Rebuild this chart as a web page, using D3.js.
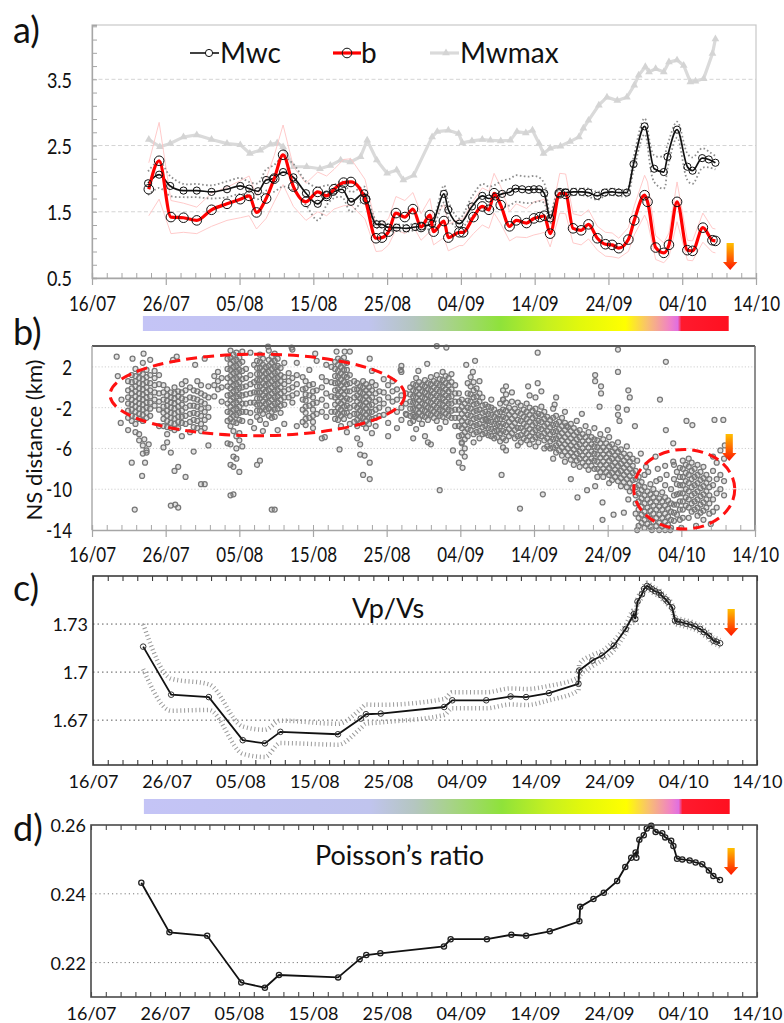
<!DOCTYPE html>
<html lang="en">
<head>
  <meta charset="utf-8">
  <title>Mwc, b, NS distance, Vp/Vs and Poisson's ratio</title>
  <style>
    body { margin: 0; background: #ffffff; }
    svg  { display: block; font-family: Lato, "Open Sans", sans-serif; }
  </style>
</head>
<body>

<div id="chart"></div>

<script src="https://d3js.org/d3.v7.min.js"></script>
<script>

  ////////////////////////////////////////////////// DATA
  // every x value is a number of days after 16/07

  var tickDays   = [0, 10, 20, 30, 40, 50, 60, 70, 80, 90];
  var tickLabels = ["16/07", "26/07", "05/08", "15/08", "25/08", "04/09", "14/09", "24/09", "04/10", "14/10"];

  // a) completeness magnitude
  var mwcDay = [7.6, 9.1, 10.6, 12.4, 14.2, 16.2, 18.3, 20.1, 21.3, 22.5, 23.6, 24.6, 25.9, 27.3, 29.0, 30.6, 31.8, 32.7, 33.9, 35.1,
                36.9, 37.2, 38.6, 39.3, 40.2, 41.3, 42.6, 43.8, 44.7, 46.1, 47.7, 48.3, 49.8, 51.5, 52.9, 53.8, 54.7, 55.6, 56.7, 57.4,
                58.3, 59.2, 59.9, 60.6, 61.3, 62.1, 63.3, 64.2, 65.3, 66.4, 67.3, 68.5, 69.5, 70.5, 71.4, 72.5, 73.4, 74.9, 76.2, 77.5,
                78.0, 79.3, 80.7, 81.4, 82.7, 83.6, 84.5];
  var mwcVal = [1.93, 2.06, 1.89, 1.82, 1.82, 1.80, 1.84, 1.89, 1.85, 1.81, 1.98, 2.00, 2.10, 2.02, 1.78, 1.62, 1.75, 1.80, 1.84, 1.65,
                1.78, 1.69, 1.31, 1.31, 1.26, 1.26, 1.25, 1.27, 1.28, 1.32, 1.77, 1.53, 1.32, 1.58, 1.74, 1.70, 1.73, 1.77, 1.80, 1.85,
                1.84, 1.83, 1.84, 1.84, 1.78, 1.40, 1.78, 1.79, 1.80, 1.80, 1.79, 1.74, 1.79, 1.80, 1.79, 1.79, 2.22, 2.79, 2.15, 2.10,
                2.33, 2.74, 2.18, 2.12, 2.31, 2.29, 2.24];
  var mwcErr = [0.18, 0.20, 0.15, 0.10, 0.10, 0.10, 0.12, 0.12, 0.10, 0.12, 0.16, 0.20, 0.22, 0.20, 0.18, 0.25, 0.15, 0.10, 0.12, 0.15,
                0.10, 0.08, 0.05, 0.05, 0.05, 0.05, 0.05, 0.05, 0.05, 0.06, 0.13, 0.12, 0.08, 0.15, 0.18, 0.18, 0.18, 0.20, 0.20, 0.20,
                0.20, 0.20, 0.20, 0.18, 0.15, 0.08, 0.06, 0.05, 0.05, 0.05, 0.06, 0.06, 0.05, 0.05, 0.05, 0.05, 0.10, 0.12, 0.20, 0.25,
                0.18, 0.12, 0.20, 0.20, 0.15, 0.12, 0.10];

  // a) b-value
  var bDay = [7.7, 9.1, 10.7, 12.4, 14.2, 16.2, 18.3, 20.1, 21.3, 22.3, 23.6, 24.7, 25.9, 27.3, 29.0, 30.6, 31.8, 32.8, 34.1, 35.1,
              37.0, 38.5, 39.3, 40.2, 41.2, 42.4, 43.5, 44.6, 45.8, 46.3, 47.7, 48.3, 49.8, 50.3, 51.7, 52.9, 53.8, 54.5, 55.4, 56.6,
              57.5, 58.9, 59.9, 60.7, 61.3, 62.1, 63.4, 64.2, 65.2, 66.3, 67.3, 68.5, 69.6, 70.5, 71.4, 72.7, 73.5, 74.9, 75.3, 76.4,
              77.5, 78.2, 79.3, 80.7, 81.4, 82.8, 84.1, 84.5];
  var bVal = [1.84, 2.27, 1.42, 1.41, 1.37, 1.53, 1.62, 1.69, 1.74, 1.49, 1.70, 2.00, 2.36, 1.88, 1.65, 1.80, 1.74, 1.84, 1.94, 1.95,
              1.69, 1.10, 1.11, 1.20, 1.48, 1.42, 1.54, 1.27, 1.45, 1.20, 1.36, 1.11, 1.19, 1.19, 1.42, 1.58, 1.53, 1.78, 1.60, 1.28,
              1.37, 1.33, 1.40, 1.42, 1.44, 1.17, 1.78, 1.77, 1.25, 1.22, 1.31, 1.10, 1.01, 1.00, 0.95, 1.08, 1.37, 1.75, 1.65, 0.96,
              0.88, 1.00, 1.65, 0.92, 0.91, 1.26, 1.07, 1.06];
  var bErr = [0.40, 0.58, 0.25, 0.22, 0.20, 0.25, 0.25, 0.28, 0.30, 0.25, 0.30, 0.35, 0.45, 0.30, 0.28, 0.30, 0.30, 0.30, 0.35, 0.35,
              0.30, 0.20, 0.20, 0.20, 0.25, 0.25, 0.25, 0.20, 0.25, 0.20, 0.25, 0.20, 0.20, 0.20, 0.25, 0.28, 0.28, 0.30, 0.28, 0.22,
              0.25, 0.22, 0.25, 0.25, 0.25, 0.20, 0.30, 0.30, 0.22, 0.22, 0.22, 0.18, 0.18, 0.18, 0.15, 0.18, 0.22, 0.30, 0.30, 0.18,
              0.15, 0.18, 0.30, 0.15, 0.15, 0.22, 0.18, 0.18];

  // a) maximum magnitude
  var maxDay = [7.7, 9.2, 10.6, 12.4, 14.2, 16.2, 18.3, 20.1, 21.4, 22.8, 24.2, 25.1, 25.9, 27.3, 29.1, 30.9, 32.3, 33.7, 35.0, 36.4,
                37.3, 38.6, 40.0, 41.3, 42.2, 43.6, 46.1, 46.8, 48.3, 49.7, 50.2, 51.5, 52.9, 54.0, 55.4, 56.7, 57.6, 58.8, 59.7, 60.6,
                61.2, 62.1, 63.5, 64.8, 66.0, 66.6, 67.3, 68.7, 69.8, 71.2, 72.5, 73.5, 74.1, 75.0, 75.5, 76.4, 77.5, 78.2, 79.3, 80.2,
                81.1, 81.8, 82.9, 84.1, 84.5];
  var maxVal = [2.59, 2.48, 2.53, 2.63, 2.66, 2.59, 2.53, 2.51, 2.38, 2.43, 2.52, 2.54, 2.48, 2.18, 2.18, 2.15, 2.20, 2.28, 2.25, 2.33,
                2.58, 2.28, 2.08, 2.13, 1.98, 2.05, 2.63, 2.71, 2.73, 2.68, 2.54, 2.57, 2.59, 2.58, 2.57, 2.58, 2.71, 2.69, 2.73, 2.53,
                2.38, 2.46, 2.49, 2.56, 2.63, 2.76, 2.88, 3.11, 3.23, 3.18, 3.23, 3.41, 3.56, 3.69, 3.61, 3.66, 3.61, 3.76, 3.79, 3.71,
                3.46, 3.47, 3.51, 3.89, 4.11];

  var aTicks = [0.5, 1.5, 2.5, 3.5];

  // b) NS distance (km) of events: each row is [day, ns, ns, ...]
  var nsCols = [
    [4.9, 0.6, -0.3, -1.0, -1.6, -2.3, -3.0],
    [5.4, 1.2, 0.5, -0.1, -0.6, -1.2, -1.7, -2.2, -2.8, -3.3],
    [5.9, 1.8, 1.1, 0.6, 0.1, -0.4, -0.9, -1.4, -1.9, -2.4, -2.9, -3.6, -4.4],
    [6.4, 1.5, 0.9, 0.4, -0.1, -0.6, -1.1, -1.6, -2.1, -2.6, -3.1, -4.6, -5.2],
    [6.9, 2.4, 1.3, 0.8, 0.3, -0.2, -0.7, -1.2, -1.7, -2.2, -2.7, -3.3, -5.7, -6.5],
    [7.4, 1.7, 1.0, 0.5, 0.0, -0.5, -1.0, -1.5, -2.0, -2.5, -3.0, -6.2],
    [7.9, 1.2, 0.4, -0.3, -0.9, -1.5, -2.1, -2.8],
    [8.5, 1.6, 0.9, 0.2, -0.5, -1.2, -1.8],
    [9.1, 1.2, 0.3, -0.6, -1.4, -2.2, -3.8],
    [9.7, 0.2, -0.5, -1.2, -1.9, -2.5, -3.1, -3.8, -5.9],
    [10.2, -0.2, -0.8, -1.3, -1.8, -2.3, -2.8, -3.3, -3.9, -4.6, -5.4],
    [10.7, -0.5, -1.0, -1.5, -2.0, -2.5, -3.0, -3.5, -4.0, -6.4],
    [11.2, 0.0, -0.6, -1.1, -1.6, -2.1, -2.6, -3.1, -3.6, -4.2, -8.2],
    [11.7, -0.4, -0.9, -1.4, -1.9, -2.4, -2.9, -3.4, -4.0, -7.8],
    [12.2, 0.3, -0.5, -1.1, -1.7, -2.3, -2.9, -3.5, -4.8],
    [12.7, 0.6, -0.3, -1.2, -2.0, -2.8, -3.6, -8.8],
    [13.3, 0.0, -1.0, -1.8, -2.6, -3.4, -4.4],
    [13.8, -0.3, -1.1, -1.8, -2.5, -3.2, -3.9, -6.3],
    [14.3, 0.6, -0.4, -1.2, -1.9, -2.6, -3.3, -4.0],
    [14.8, 0.2, -0.6, -1.4, -2.1, -2.8, -3.6, -4.3],
    [15.3, -0.8, -1.6, -2.4, -3.2, -4.0],
    [15.8, 0.1, -1.0, -2.0, -2.9, -5.7],
    [16.6, 1.1, 0.2, -0.9],
    [17.1, 1.5, 0.6, -0.2],
    [17.6, 0.9, 0.0, -1.4],
    [18.4, 2.8, 1.8, 0.9, 0.1, -0.8, -1.6, -2.4, -3.3, -5.5],
    [18.8, 3.6, 2.9, 2.3, 1.7, 1.1, 0.5, -0.1, -0.7, -1.3, -1.9, -2.5, -3.1, -3.8, -5.6, -7.6],
    [19.2, 3.2, 2.6, 2.0, 1.4, 0.8, 0.2, -0.4, -1.0, -1.6, -2.2, -2.8, -3.4, -4.3, -6.8, -7.8],
    [19.6, 3.4, 2.7, 2.1, 1.5, 0.9, 0.3, -0.3, -0.9, -1.5, -2.1, -2.7, -3.5, -4.8, -6.0, -7.0],
    [20.0, 2.9, 2.3, 1.7, 1.1, 0.5, -0.1, -0.7, -1.3, -1.9, -2.5, -3.2, -4.5, -5.2, -8.3],
    [20.4, 3.5, 2.5, 1.6, 0.8, 0.0, -0.8, -1.6, -2.4, -3.3, -5.8],
    [20.9, 1.8, 0.9, 0.1, -0.7, -1.6, -2.4],
    [21.5, 3.4, 1.2, 0.3, -0.6, -1.5, -2.5, -3.4],
    [22.0, 2.2, 0.5, -0.5, -1.5, -4.0],
    [22.4, 2.6, 1.9, 1.3, 0.7, 0.1, -0.5, -1.1, -1.7, -2.3, -2.9, -7.6],
    [22.8, 3.2, 2.5, 1.9, 1.3, 0.7, 0.1, -0.5, -1.1, -1.7, -2.3, -3.2, -7.2],
    [23.2, 2.8, 2.2, 1.6, 1.0, 0.4, -0.2, -0.8, -1.4, -2.0, -2.6, -4.3],
    [23.6, 2.0, 1.4, 0.8, 0.2, -0.4, -1.0, -1.6, -2.2, -3.6],
    [24.0, 3.6, 2.7, 2.1, 1.5, 0.9, 0.3, -0.3, -0.9, -1.5, -2.1, -2.8],
    [24.4, 3.0, 2.4, 1.8, 1.2, 0.6, 0.0, -0.6, -1.2, -1.8, -2.4, -3.0],
    [24.8, 3.3, 2.6, 2.0, 1.4, 0.8, 0.2, -0.4, -1.0, -1.6, -2.2, -2.9],
    [25.2, 2.8, 2.1, 1.5, 0.9, 0.3, -0.3, -0.9, -1.5, -2.1, -4.2],
    [25.6, 1.9, 1.2, 0.6, 0.0, -0.6, -1.2, -1.8, -2.5],
    [26.1, 2.4, 1.0, 0.3, -0.4, -1.0, -1.7, -3.6],
    [26.7, 1.4, 0.6, -0.2, -1.0],
    [27.2, 3.7, 0.9, 0.0, -0.8, -1.5],
    [27.8, 2.4, 1.2, 0.3, -0.6, -3.8],
    [28.6, 1.0, -0.2, -1.2, -2.2, -3.4],
    [29.0, 0.6, -0.1, -0.7, -1.3, -1.9, -2.5, -3.1, -3.7],
    [29.5, 1.7, 0.2, -0.8, -1.8, -3.0],
    [30.0, 0.3, -0.4, -1.0, -1.6, -2.2, -2.8, -3.4, -4.0],
    [30.5, 2.6, -0.3, -1.5, -2.6],
    [31.2, 1.0, 0.0, -1.2, -2.4, -5.0],
    [31.8, 2.2, 0.6, -0.6, -1.8, -2.9],
    [32.5, 2.0, 0.5, -0.9, -2.4],
    [33.0, 2.5, 1.8, 1.1, 0.4, -0.3, -1.0, -1.7, -2.4, -3.1],
    [33.4, 2.8, 2.2, 1.6, 1.0, 0.4, -0.2, -0.8, -1.4, -2.0, -2.6, -3.2],
    [33.8, 2.6, 2.0, 1.4, 0.8, 0.2, -0.4, -1.0, -1.6, -2.2, -2.8, -3.8],
    [34.2, 2.9, 2.3, 1.7, 1.1, 0.5, -0.1, -0.7, -1.3, -1.9, -2.5, -3.1],
    [34.6, 2.4, 1.7, 1.0, 0.3, -0.4, -1.1, -1.8, -2.5, -4.4],
    [35.0, 1.2, 0.4, -0.4, -1.2, -2.0, -2.8, -3.6],
    [35.6, 0.6, -0.2, -1.0, -1.8, -2.6, -3.4],
    [36.0, 0.4, -0.2, -0.8, -1.4, -2.0, -2.6, -3.2, -3.8, -5.0],
    [36.4, 0.1, -0.5, -1.1, -1.7, -2.3, -2.9, -3.5, -5.6],
    [36.8, 0.6, 0.0, -0.6, -1.2, -1.8, -2.4, -3.0, -3.6],
    [37.2, 0.3, -0.3, -0.9, -1.5, -2.1, -2.7, -3.3, -4.0],
    [37.6, 0.0, -0.6, -1.2, -1.8, -2.4, -3.0, -3.6],
    [38.0, 1.6, 0.5, -0.3, -1.0, -1.7, -2.4, -3.1, -4.5],
    [38.5, 0.2, -0.6, -1.4, -2.2, -3.0, -3.8],
    [39.0, -0.4, -1.2, -2.0, -2.8],
    [39.6, 0.8, -0.5, -1.6, -2.7],
    [40.2, 0.2, -1.0, -2.2, -3.5],
    [40.8, 0.6, -0.4, -1.4],
    [41.4, -0.2, -1.2, -2.4, -4.0],
    [42.0, 1.5, -0.8, -2.0, -3.2],
    [42.6, -0.6, -1.6, -2.6],
    [43.2, 0.0, -0.7, -1.4, -2.1, -2.8, -3.5],
    [43.6, 0.3, -0.3, -0.9, -1.5, -2.1, -2.7, -3.3, -5.0],
    [44.0, 0.9, 0.2, -0.4, -1.0, -1.6, -2.2, -2.8, -4.1],
    [44.4, 0.5, -0.1, -0.7, -1.3, -1.9, -2.5, -3.1],
    [44.8, 0.2, -0.4, -1.0, -1.6, -2.2, -2.8, -3.6],
    [45.2, 0.7, 0.1, -0.5, -1.1, -1.7, -2.3, -2.9, -4.8],
    [45.6, 0.4, -0.2, -0.8, -1.4, -2.0, -2.6, -3.2, -5.4],
    [46.0, 1.0, 0.3, -0.3, -0.9, -1.5, -2.1, -2.7],
    [46.4, 0.6, 0.0, -0.6, -1.2, -1.8, -2.4, -3.0],
    [46.8, 1.2, 0.4, -0.2, -0.8, -1.4, -2.0, -2.6, -3.3],
    [47.2, 0.8, 0.2, -0.4, -1.0, -1.6, -2.2, -2.8, -4.0, -10.1],
    [47.6, 1.5, 0.7, 0.1, -0.5, -1.1, -1.7, -2.3, -2.9],
    [48.0, 1.1, 0.4, -0.2, -0.8, -1.4, -2.0, -2.6, -3.4],
    [48.4, 0.9, 0.2, -0.4, -1.0, -1.6, -2.2, -2.8],
    [48.8, 1.3, 0.5, -0.2, -0.9, -1.6, -2.3, -3.0],
    [49.3, 0.2, -0.6, -1.4, -2.2, -3.0, -3.8],
    [49.8, -0.6, -1.4, -2.2, -3.0, -3.8, -4.8, -7.4],
    [50.2, -1.2, -1.9, -2.6, -3.3, -4.0, -4.7, -5.4, -6.4],
    [50.6, -1.6, -2.3, -3.0, -3.7, -4.4, -5.1, -6.0, -6.8],
    [51.0, 0.4, -0.6, -1.3, -2.0, -2.7, -3.4, -4.1, -4.8],
    [51.4, 1.0, 0.1, -0.7, -1.4, -2.1, -2.8, -3.5, -4.2],
    [51.8, 0.5, -0.3, -1.0, -1.7, -2.4, -3.1, -3.8, -4.6, -5.4],
    [52.2, -0.1, -0.9, -1.6, -2.3, -3.0, -3.7, -4.4],
    [52.6, 0.6, -0.6, -1.4, -2.2, -2.9, -3.6, -4.3, -5.0],
    [53.0, -1.0, -1.8, -2.5, -3.2, -3.9, -4.6],
    [53.4, -1.7, -2.4, -3.1, -3.8, -4.5],
    [53.8, -1.9, -2.6, -3.3, -4.0, -4.7],
    [54.2, -1.2, -2.0, -2.7, -3.4, -4.1, -4.8],
    [54.6, -2.2, -2.9, -3.6, -4.3, -5.0],
    [55.0, -2.5, -3.1, -3.7, -4.3, -4.9],
    [55.4, -1.6, -2.4, -3.1, -3.8, -4.5, -5.3],
    [55.8, -0.3, -1.2, -2.2, -2.9, -3.6, -4.3, -5.0, -5.9],
    [56.2, 0.1, -0.7, -1.5, -2.3, -3.0, -3.7, -4.4, -5.2, -6.2],
    [56.6, -2.0, -2.7, -3.4, -4.1, -4.8],
    [57.0, -1.4, -2.4, -3.1, -3.8, -4.5],
    [57.4, -2.1, -2.8, -3.5, -4.2, -5.0],
    [57.8, -1.5, -2.4, -3.2, -4.0, -4.8, -5.7],
    [58.2, -1.8, -2.6, -3.3, -4.0, -4.7, -5.4],
    [58.6, -2.2, -2.9, -3.6, -4.3, -5.0],
    [59.0, -1.6, -2.4, -3.1, -3.8, -4.5, -5.2],
    [59.4, -0.8, -2.0, -2.7, -3.4, -4.1, -4.8, -5.6],
    [59.8, -2.3, -3.0, -3.7, -4.4, -5.1],
    [60.2, -1.0, -2.1, -2.8, -3.5, -4.2, -4.9, -5.8],
    [60.6, -2.6, -3.3, -4.0, -4.7, -5.4],
    [61.0, -1.9, -2.7, -3.4, -4.1, -4.8],
    [61.4, -2.4, -3.1, -3.8, -4.5, -5.2, -6.0],
    [61.8, -2.9, -3.6, -4.3, -5.0, -5.8],
    [62.2, -3.2, -3.9, -4.6, -5.3, -6.0],
    [62.6, -2.1, -3.0, -3.7, -4.4, -5.1, -5.9, -7.0],
    [63.0, -2.8, -3.6, -4.3, -5.0, -5.7, -6.4],
    [63.4, -3.4, -4.1, -4.8, -5.5, -6.2],
    [63.8, -3.0, -3.8, -4.5, -5.2, -5.9, -6.7],
    [64.2, -2.4, -3.5, -4.2, -4.9, -5.6, -6.3, -7.3],
    [64.6, -3.9, -4.6, -5.3, -6.0, -6.7],
    [65.0, -3.6, -4.3, -5.0, -5.7, -6.4, -7.1],
    [65.4, -4.0, -4.7, -5.4, -6.1, -6.8, -7.6],
    [65.8, -3.3, -4.4, -5.1, -5.8, -6.5, -7.2],
    [66.2, -4.2, -4.9, -5.6, -6.3, -7.0, -7.8],
    [66.6, -4.6, -5.3, -6.0, -6.7, -7.4],
    [67.0, -3.8, -4.9, -5.6, -6.3, -7.0, -7.7],
    [67.4, -4.4, -5.2, -5.9, -6.6, -7.3, -8.1],
    [67.8, -4.9, -5.6, -6.3, -7.0, -7.7],
    [68.2, -4.0, -5.1, -5.8, -6.5, -7.2, -8.0],
    [68.6, -5.2, -5.9, -6.6, -7.3, -8.0, -8.8],
    [69.0, -4.6, -5.5, -6.2, -6.9, -7.6, -8.3],
    [69.4, -5.1, -5.9, -6.6, -7.3, -8.0, -8.8],
    [69.8, -5.5, -6.2, -6.9, -7.6, -8.3],
    [70.2, -4.9, -5.8, -6.5, -7.2, -7.9, -8.6, -9.4],
    [70.6, -5.6, -6.3, -7.0, -7.7, -8.4, -9.1],
    [71.0, -6.0, -6.7, -7.4, -8.1, -8.8],
    [71.4, -5.4, -6.3, -7.0, -7.7, -8.4, -9.2],
    [71.8, -6.1, -6.8, -7.5, -8.2, -8.9, -9.7],
    [72.2, -6.5, -7.2, -7.9, -8.6, -9.3],
    [72.6, -5.8, -6.9, -7.6, -8.3, -9.0, -9.8],
    [73.0, -6.6, -7.3, -8.0, -8.7, -9.4, -10.2],
    [73.4, -7.0, -7.7, -8.4, -9.1, -9.9],
    [73.8, -8.2, -9.0, -9.8, -10.6, -11.4, -12.4],
    [74.2, -8.8, -9.6, -10.4, -11.2, -12.0, -12.8, -13.6],
    [74.6, -9.3, -10.1, -10.9, -11.7, -12.5, -13.3],
    [75.0, -8.6, -9.8, -10.6, -11.4, -12.2, -13.0, -13.8],
    [75.4, -10.2, -11.0, -11.8, -12.6, -13.4],
    [75.8, -9.5, -10.5, -11.3, -12.1, -12.9, -13.7],
    [76.2, -10.0, -10.8, -11.6, -12.4, -13.2],
    [76.6, -9.2, -10.4, -11.2, -12.0, -12.8, -13.6],
    [77.0, -10.9, -11.7, -12.5, -13.3, -14.0],
    [77.4, -10.3, -11.2, -12.0, -12.8, -13.6],
    [77.8, -9.6, -10.8, -11.6, -12.4, -13.2, -14.0],
    [78.2, -11.1, -11.9, -12.7, -13.5],
    [78.6, -10.0, -11.4, -12.2, -13.0, -13.8],
    [79.0, -9.0, -10.6, -11.5, -12.3, -13.1],
    [79.4, -8.3, -9.5, -10.5, -11.5, -12.5],
    [79.8, -7.9, -8.8, -9.6, -10.4, -11.2, -12.0, -13.0],
    [80.2, -7.2, -8.0, -8.8, -9.6, -10.4, -11.2, -12.0, -12.8],
    [80.6, -7.6, -8.4, -9.2, -10.0, -10.8, -11.6],
    [81.0, -7.0, -7.8, -8.6, -9.4, -10.2, -11.0, -11.8, -12.8],
    [81.4, -7.4, -8.2, -9.0, -9.8, -10.6, -11.4, -12.2],
    [81.8, -8.0, -8.8, -9.6, -10.4, -11.2, -12.0],
    [82.2, -7.6, -8.6, -9.4, -10.2, -11.0, -11.8, -12.6],
    [82.6, -8.3, -9.1, -9.9, -10.7, -11.5, -12.3],
    [83.0, -7.8, -8.9, -9.7, -10.5, -11.3, -12.1, -13.0],
    [83.4, -8.6, -9.4, -10.2, -11.0, -11.8],
    [83.8, -9.0, -9.8, -10.6, -11.4, -12.4],
    [84.3, -6.8, -8.2, -9.6, -11.0, -12.2],
    [84.8, -7.4, -9.0, -10.4, -11.8],
    [85.3, -6.2, -8.6, -10.0],
    [85.8, -7.0, -9.2, -10.6]
  ];

  // b) isolated events as [day, ns]
  var nsLoose = [
    [3.35, 3.0], [3.5, 1.1], [4.0, -1.2], [3.9, -3.5], [4.9, -4.2], [5.4, -7.4], [5.5, 2.8], [5.8, -12.0], [6.8, -8.7],
    [7.0, 3.3], [7.1, -5.1], [7.4, -6.4], [7.2, -7.4], [7.7, -5.6], [7.9, 2.7], [10.7, -11.6], [11.7, -11.8],
    [19.2, -10.5], [24.8, -12.0], [11.3, -11.5], [15.3, -9.5], [11.0, 2.7], [11.5, 3.0], [15.3, 2.8], [14.0, 2.2],
    [23.9, 4.0], [27.1, 3.9], [30.3, 3.3], [33.2, 3.5], [34.3, 3.5], [35.0, 3.5], [37.7, 2.8], [42.0, 2.1], [41.9, 1.7],
    [37.7, -9.0], [37.7, -7.4], [37.0, -6.7], [36.8, -8.6], [36.4, -6.6], [33.6, -6.1], [31.6, -4.9], [40.2, -4.8],
    [42.7, -2.7], [43.8, -2.9], [18.8, -10.6], [14.8, -9.5], [24.4, -12.0],
    [46.8, 4.05], [48.1, 3.9], [50.8, 2.2], [51.7, 1.5], [60.5, 3.4], [71.4, 3.7], [71.4, 1.5], [77.9, 2.5],
    [68.3, 1.2], [68.3, 0.6], [69.1, 0.1], [69.1, -0.6], [68.9, -1.9], [72.8, -0.3], [77.1, -1.2], [80.7, -3.3],
    [81.5, -3.7], [84.5, -3.2], [85.7, -3.2], [77.9, -4.2], [85.9, -5.7], [71.4, -2.0], [71.4, -2.7], [71.6, -3.3],
    [72.6, -2.2], [73.7, -3.8], [78.9, -5.5], [77.8, -7.7], [78.9, -7.3], [77.1, -9.0], [50.3, -7.9], [55.6, -8.6],
    [61.2, -10.5], [58.1, -11.9], [65.9, -10.8], [68.3, -9.7], [69.3, -11.3], [69.3, -13.0], [70.8, -12.5], [72.2, -12.3],
    [60.5, 0.4], [61.0, -0.4], [59.2, 0.1], [62.8, -1.7], [64.4, -3.8], [55.8, -1.2], [53.5, -3.2], [50.2, -5.5],
    [73.0, -1.0], [74.5, -6.5], [75.2, -7.8], [76.5, -6.8], [66.5, -2.6], [70.0, -4.2], [63.0, -1.0], [57.0, -0.5],
    [52.0, 2.6], [45.5, 2.3], [44.3, 1.6], [46.0, -5.6], [49.0, -6.2], [65.0, -9.0], [67.2, -10.1], [72.8, -11.0],
    [74.0, -14.0], [76.0, -14.0], [78.5, -14.0], [80.0, -13.8], [82.0, -13.6], [84.0, -13.4],
    [74.0, -7.2], [75.5, -8.3], [76.8, -8.0], [78.0, -8.6], [79.0, -7.6]
  ];

  var nsTicks = [-14, -10, -6, -2, 2];

  // b) the two dashed ellipses: centre and half axes
  var ellDay     = [22.45, 80.4];
  var ellNs      = [-0.75, -10.0];
  var ellHalfDay = [20.0, 6.85];
  var ellHalfNs  = [4.0, 3.9];

  // c) Vp/Vs
  var vpDay = [6.8, 10.6, 15.7, 20.3, 23.3, 25.4, 33.2, 36.3, 37.0, 39.0, 47.6, 48.7, 53.3, 56.6, 58.7, 61.8, 65.8, 65.9, 67.7, 69.0,
               70.6, 72.2, 73.3, 73.5, 73.8, 74.4, 74.7, 75.1, 75.4, 75.8, 76.2, 76.7, 77.0, 77.6, 77.9, 78.5, 78.9, 79.3, 79.8, 80.4,
               81.0, 81.6, 82.3, 82.8, 83.5, 84.1, 84.5, 85.0];
  var vpVal = [1.7159, 1.6859, 1.6844, 1.6575, 1.6555, 1.6627, 1.6612, 1.6710, 1.6737, 1.6741, 1.6782, 1.6824, 1.6824, 1.6848, 1.6844,
               1.6869, 1.6927, 1.7010, 1.7072, 1.7103, 1.7165, 1.7269, 1.7362, 1.7331, 1.7440, 1.7486, 1.7520, 1.7538, 1.7530, 1.7517,
               1.7505, 1.7496, 1.7480, 1.7455, 1.7440, 1.7403, 1.7321, 1.7315, 1.7310, 1.7302, 1.7296, 1.7285, 1.7269, 1.7250, 1.7227,
               1.7196, 1.7190, 1.7180];
  var vpErr = [0.0140, 0.0100, 0.0080, 0.0085, 0.0085, 0.0070, 0.0065, 0.0060, 0.0060, 0.0055, 0.0050, 0.0050, 0.0050, 0.0050, 0.0050,
               0.0045, 0.0040, 0.0040, 0.0035, 0.0030, 0.0030, 0.0025, 0.0025, 0.0025, 0.0020, 0.0020, 0.0020, 0.0020, 0.0020, 0.0020,
               0.0020, 0.0020, 0.0020, 0.0020, 0.0020, 0.0020, 0.0020, 0.0020, 0.0020, 0.0020, 0.0020, 0.0020, 0.0020, 0.0020, 0.0020,
               0.0020, 0.0020, 0.0020];
  var vpTicks = [1.67, 1.7, 1.73];

  // d) Poisson's ratio
  var prDay = [6.8, 10.6, 15.7, 20.3, 23.5, 25.4, 33.4, 36.3, 37.2, 39.1, 47.7, 48.6, 53.5, 56.8, 58.8, 62.0, 66.0, 66.1, 67.9, 69.3,
               71.1, 72.2, 73.0, 73.6, 73.7, 74.1, 74.7, 75.1, 75.7, 76.3, 77.2, 77.6, 78.4, 78.7, 79.2, 79.9, 80.9, 81.7, 82.6, 83.5,
               84.1, 85.0];
  var prVal = [0.2432, 0.2288, 0.2278, 0.2142, 0.2127, 0.2164, 0.2157, 0.2210, 0.2222, 0.2227, 0.2247, 0.2268, 0.2268, 0.2281, 0.2278,
               0.2291, 0.2320, 0.2362, 0.2385, 0.2403, 0.2437, 0.2478, 0.2505, 0.2520, 0.2505, 0.2557, 0.2570, 0.2590, 0.2598, 0.2580,
               0.2576, 0.2564, 0.2554, 0.2539, 0.2502, 0.2500, 0.2497, 0.2491, 0.2486, 0.2468, 0.2452, 0.2440];
  var prTicks = [0.22, 0.24, 0.26];

  // colour bar (time code) under a) and c)
  var barDay   = [6.9, 37.5, 43.6, 48.2, 55.4, 61.7, 66.2, 72.3, 75.3, 78.4, 79.4, 79.9, 86.3];
  var barColor = ["#c4c4f6", "#c0c4ee", "#b4c6c0", "#a8d28c", "#8fe23a", "#c6f020", "#e2f80c", "#ffff00",
                  "#f8c070", "#f080c8", "#e070e0", "#ff1a2e", "#ff1020"];

  var arrowDay = 86.5;

  ////////////////////////////////////////////////// SETUP

  var W = 784, H = 1023;

  var svg = d3.select("#chart").append("svg")
              .attr("width", W)
              .attr("height", H);

  var defs = svg.append("defs");

  var arrowGrad = defs.append("linearGradient").attr("id", "arrowGrad")
                      .attr("x1", 0).attr("y1", 0).attr("x2", 0).attr("y2", 1);
  arrowGrad.append("stop").attr("offset", "0%").attr("stop-color", "#ffc000");
  arrowGrad.append("stop").attr("offset", "100%").attr("stop-color", "#ff1500");

  // panel boxes (pixels)
  var pA = {left: 92, right: 756, top: 25,  bottom: 278};
  var pB = {left: 92, right: 755, top: 346, bottom: 530};
  var pC = {left: 93, right: 757, top: 576, bottom: 765};
  var pD = {left: 91, right: 757, top: 825, bottom: 997};

  var xA = d3.scaleLinear().domain([0, 90]).range([pA.left, pA.right]);
  var yA = d3.scaleLinear().domain([0.5, 4.32]).range([pA.bottom, pA.top]);
  var xB = d3.scaleLinear().domain([0, 90]).range([pB.left, pB.right]);
  var yB = d3.scaleLinear().domain([-14, 4.05]).range([pB.bottom, pB.top]);
  var xC = d3.scaleLinear().domain([0, 90]).range([pC.left, pC.right]);
  var yC = d3.scaleLinear().domain([1.642, 1.76]).range([pC.bottom, pC.top]);
  var xD = d3.scaleLinear().domain([0, 90]).range([pD.left, pD.right]);
  var yD = d3.scaleLinear().domain([0.21, 0.26]).range([pD.bottom, pD.top]);

  var minorDays = d3.range(0, 91, 2);

  ////////////////////////////////////////////////// PANEL A

  grid(yA, pA, [1.5, 2.5, 3.5], "#d4d4d4", "4,2.5");

  // frame: light top/right, darker axes
  svg.append("rect").attr("x", pA.left).attr("y", pA.top)
     .attr("width", pA.right - pA.left).attr("height", pA.bottom - pA.top)
     .attr("fill", "none").attr("stroke", "#c8c8c8").attr("stroke-width", 1.2);

  svg.append("g").attr("transform", "translate(" + pA.left + ",0)")
     .call(d3.axisLeft(yA).tickValues(d3.range(0.5, 4.35, 0.2)).tickSize(-5).tickFormat(""))
     .call(function(g){ g.select(".domain").attr("stroke", "#a6a6a6").attr("stroke-width", 1.3); })
     .selectAll("line").attr("stroke", "#a6a6a6");

  yLabels(yA, pA.left - 20, aTicks, function(d){ return d3.format(".1f")(d); }, 18, 1.2);
  xAxisOpen(xA, pA, 33, 1.25);

  var lineA = function(days, vals, curve){
    return d3.line().x(function(d, i){ return xA(days[i]); })
                    .y(function(d){ return yA(d); })
                    .curve(curve)(vals);
  };

  // Mwmax
  svg.append("path").attr("d", lineA(maxDay, maxVal, d3.curveLinear))
     .attr("fill", "none").attr("stroke", "#dadada").attr("stroke-width", 3.2);
  svg.append("g").selectAll("path").data(maxVal).enter().append("path")
     .attr("d", d3.symbol(d3.symbolTriangle).size(26))
     .attr("transform", function(d, i){ return "translate(" + xA(maxDay[i]) + "," + yA(d) + ")"; })
     .attr("fill", "#d4d4d4");

  // b uncertainty
  [1, -1].forEach(function(s){
    var v = bVal.map(function(d, i){ return d + s * bErr[i]; });
    svg.append("path").attr("d", lineA(bDay, v, d3.curveLinear))
       .attr("fill", "none").attr("stroke", "#ffc4c4").attr("stroke-width", 0.9);
  });

  // Mwc uncertainty
  [1, -1].forEach(function(s){
    var v = mwcVal.map(function(d, i){ return d + s * mwcErr[i]; });
    svg.append("path").attr("d", lineA(mwcDay, v, d3.curveCatmullRom))
       .attr("fill", "none").attr("stroke", "#8e8e8e").attr("stroke-width", 1.8)
       .attr("stroke-dasharray", "1.6,2.4");
  });

  svg.append("path").attr("d", lineA(mwcDay, mwcVal, d3.curveMonotoneX))
     .attr("fill", "none").attr("stroke", "#111").attr("stroke-width", 1.7);
  svg.append("path").attr("d", lineA(bDay, bVal, d3.curveMonotoneX))
     .attr("fill", "none").attr("stroke", "#ff0000").attr("stroke-width", 3.2);

  svg.append("g").selectAll("circle").data(mwcVal).enter().append("circle")
     .attr("cx", function(d, i){ return xA(mwcDay[i]); })
     .attr("cy", function(d){ return yA(d); })
     .attr("r", 3.6).attr("fill", "none").attr("stroke", "#111").attr("stroke-width", 1);
  svg.append("g").selectAll("circle").data(bVal).enter().append("circle")
     .attr("cx", function(d, i){ return xA(bDay[i]); })
     .attr("cy", function(d){ return yA(d); })
     .attr("r", 4.8).attr("fill", "none").attr("stroke", "#111").attr("stroke-width", 1);

  // legend
  var lg = svg.append("g");
  lg.append("line").attr("x1", 190).attr("x2", 219).attr("y1", 53).attr("y2", 53).attr("stroke", "#111").attr("stroke-width", 1.6);
  lg.append("circle").attr("cx", 209).attr("cy", 53).attr("r", 3.6).attr("fill", "#fff").attr("stroke", "#111");
  text(220, 63, "Mwc", 28, "start", 1);
  lg.append("line").attr("x1", 333).attr("x2", 361).attr("y1", 53).attr("y2", 53).attr("stroke", "#ff0000").attr("stroke-width", 3.2);
  lg.append("circle").attr("cx", 347).attr("cy", 53).attr("r", 4.8).attr("fill", "none").attr("stroke", "#111");
  text(361, 63, "b", 28, "start", 1);
  lg.append("line").attr("x1", 430).attr("x2", 459).attr("y1", 53).attr("y2", 53).attr("stroke", "#dadada").attr("stroke-width", 3.2);
  lg.append("path").attr("d", d3.symbol(d3.symbolTriangle).size(26)).attr("transform", "translate(446,53)").attr("fill", "#d4d4d4");
  text(460, 63, "Mwmax", 28, "start", 1);

  text(13, 43, "a)", 36, "start", 1);
  arrow(xA, 243);

  ////////////////////////////////////////////////// COLOUR BAR 1

  colourBar("bar1", xA, 316, 15);

  ////////////////////////////////////////////////// PANEL B

  grid(yB, pB, [-10, -6, -2, 2], "#cfcfcf", "1.2,2");

  var nsPts = [];
  nsCols.forEach(function(c){
    for (var i = 1; i < c.length; i++) nsPts.push([c[0], c[i]]);
  });
  nsPts = nsPts.concat(nsLoose);

  svg.append("g").selectAll("circle").data(nsPts).enter().append("circle")
     .attr("cx", function(d){ return xB(d[0]); })
     .attr("cy", function(d){ return yB(d[1]); })
     .attr("r", 2.5).attr("fill", "#808080").attr("fill-opacity", 0.22)
     .attr("stroke", "#777777").attr("stroke-width", 1.25);

  svg.append("line").attr("x1", pB.left).attr("x2", pB.right).attr("y1", pB.top).attr("y2", pB.top)
     .attr("stroke", "#595959").attr("stroke-width", 1.8);
  svg.append("line").attr("x1", pB.right).attr("x2", pB.right).attr("y1", pB.top).attr("y2", pB.bottom)
     .attr("stroke", "#6a6a6a").attr("stroke-width", 1.5);
  svg.append("line").attr("x1", pB.left).attr("x2", pB.left).attr("y1", pB.top).attr("y2", pB.bottom)
     .attr("stroke", "#a0a0a0").attr("stroke-width", 1.3);

  yLabels(yB, pB.left - 20, nsTicks, function(d){ return d; }, 17, 1.2);
  xAxisOpen(xB, pB, 32, 1.25);

  ellDay.forEach(function(d, i){
    svg.append("ellipse")
       .attr("cx", xB(d)).attr("cy", yB(ellNs[i]))
       .attr("rx", xB(ellHalfDay[i]) - xB(0)).attr("ry", yB(0) - yB(ellHalfNs[i]))
       .attr("fill", "none").attr("stroke", "#ff1111").attr("stroke-width", 3)
       .attr("stroke-dasharray", "11,6");
  });

  svg.append("text").attr("transform", "translate(42,440) rotate(-90) scale(1.05,1)")
     .attr("text-anchor", "middle").attr("font-size", 21).attr("fill", "#111").text("NS distance (km)");

  text(13, 345, "b)", 36, "start", 1);
  arrow(xB, 434);

  ////////////////////////////////////////////////// PANEL C

  grid(yC, pC, vpTicks, "#5a5a5a", "1.5,3");

  [1, -1].forEach(function(s){
    var v = vpVal.map(function(d, i){ return d + s * vpErr[i]; });
    svg.append("path")
       .attr("d", d3.line().x(function(d, i){ return xC(vpDay[i]); }).y(function(d){ return yC(d); }).curve(d3.curveMonotoneX)(v))
       .attr("fill", "none").attr("stroke", "#9a9a9a").attr("stroke-width", 4.5)
       .attr("stroke-dasharray", "1,2.8");
  });

  svg.append("path")
     .attr("d", d3.line().x(function(d, i){ return xC(vpDay[i]); }).y(function(d){ return yC(d); })(vpVal))
     .attr("fill", "none").attr("stroke", "#111").attr("stroke-width", 1.8);
  svg.append("g").selectAll("circle").data(vpVal).enter().append("circle")
     .attr("cx", function(d, i){ return xC(vpDay[i]); })
     .attr("cy", function(d){ return yC(d); })
     .attr("r", 2.8).attr("fill", "none").attr("stroke", "#333").attr("stroke-width", 1);

  boxedAxes(xC, pC, "#3c3c3c");
  yLabels(yC, pC.left - 5, vpTicks, function(d){ return d; }, 18, 1);
  text(352, 618, "Vp/Vs", 27, "start", 1);
  text(13, 601, "c)", 36, "start", 1);
  arrow(xC, 609);

  ////////////////////////////////////////////////// COLOUR BAR 2

  colourBar("bar2", xC, 799, 15);

  ////////////////////////////////////////////////// PANEL D

  grid(yD, pD, [0.22, 0.24], "#7a7a7a", "1.2,3");

  svg.append("path")
     .attr("d", d3.line().x(function(d, i){ return xD(prDay[i]); }).y(function(d){ return yD(d); })(prVal))
     .attr("fill", "none").attr("stroke", "#111").attr("stroke-width", 1.8);
  svg.append("g").selectAll("circle").data(prVal).enter().append("circle")
     .attr("cx", function(d, i){ return xD(prDay[i]); })
     .attr("cy", function(d){ return yD(d); })
     .attr("r", 2.6).attr("fill", "none").attr("stroke", "#222").attr("stroke-width", 1.3);

  boxedAxes(xD, pD, "#4a4a4a");
  yLabels(yD, pD.left - 5, prTicks, function(d){ return d3.format(".2f")(d); }, 18, 1);
  text(315, 865, "Poisson\u2019s ratio", 27, "start", 1);
  text(13, 841, "d)", 36, "start", 1);
  arrow(xD, 848);

  ////////////////////////////////////////////////////////////////////////////////////////////////////
  ////////////////////////////////////////////////// FUNCTIONS

  function text(x, y, s, size, anchor, sy){
    return svg.append("text")
              .attr("transform", "translate(" + x + "," + y + ") scale(1," + sy + ")")
              .attr("font-size", size).attr("text-anchor", anchor)
              .attr("fill", "#111").text(s);
  }

  function grid(y, p, vals, color, dash){
    svg.append("g").selectAll("line").data(vals).enter().append("line")
       .attr("x1", p.left).attr("x2", p.right)
       .attr("y1", function(d){ return y(d); }).attr("y2", function(d){ return y(d); })
       .attr("stroke", color).attr("stroke-width", 1).attr("stroke-dasharray", dash);
  }

  function yLabels(y, xRight, vals, fmt, size, sy){
    var g = svg.append("g").attr("transform", "translate(" + xRight + ",0)")
               .call(d3.axisLeft(y).tickValues(vals).tickSize(0).tickPadding(0).tickFormat(fmt));
    g.attr("font-family", null).attr("font-size", null);
    g.select(".domain").remove();
    g.selectAll("text").attr("x", null).attr("dy", null)
     .attr("font-size", size).attr("fill", "#111")
     .attr("transform", "translate(0," + (size * 0.36 * sy) + ") scale(1," + sy + ")");
  }

  // axis with minor ticks up and major ticks down (panels a, b)
  function xAxisOpen(x, p, labelOff, sy){
    svg.append("g").attr("transform", "translate(0," + p.bottom + ")")
       .call(d3.axisBottom(x).tickValues(minorDays).tickSize(-5).tickFormat(""))
       .call(function(g){ g.select(".domain").attr("stroke", "#a6a6a6").attr("stroke-width", 1.3); })
       .selectAll("line").attr("stroke", "#a6a6a6");

    var g = svg.append("g").attr("transform", "translate(0," + p.bottom + ")")
               .call(d3.axisBottom(x).tickValues(tickDays).tickSize(7)
                       .tickFormat(function(d, i){ return tickLabels[i]; }));
    g.attr("font-family", null).attr("font-size", null);
    g.select(".domain").remove();
    g.selectAll("line").attr("stroke", "#a6a6a6").attr("stroke-width", 1.2);
    g.selectAll("text").attr("y", null).attr("dy", null)
     .attr("font-size", 17).attr("fill", "#111")
     .attr("transform", "translate(0," + labelOff + ") scale(1," + sy + ")");
  }

  // closed frame with inward ticks top and bottom (panels c, d)
  function boxedAxes(x, p, color){
    svg.append("rect").attr("x", p.left).attr("y", p.top)
       .attr("width", p.right - p.left).attr("height", p.bottom - p.top)
       .attr("fill", "none").attr("stroke", color).attr("stroke-width", 1.6);

    svg.append("g").attr("transform", "translate(0," + p.top + ")")
       .call(d3.axisTop(x).tickValues(minorDays).tickSize(-5).tickFormat(""))
       .call(function(g){ g.select(".domain").remove(); })
       .selectAll("line").attr("stroke", color).attr("stroke-width", 1.1);

    svg.append("g").attr("transform", "translate(0," + p.bottom + ")")
       .call(d3.axisBottom(x).tickValues(minorDays).tickSize(-5).tickFormat(""))
       .call(function(g){ g.select(".domain").remove(); })
       .selectAll("line").attr("stroke", color).attr("stroke-width", 1.1);

    var g = svg.append("g").attr("transform", "translate(0," + p.bottom + ")")
               .call(d3.axisBottom(x).tickValues(tickDays).tickSize(0)
                       .tickFormat(function(d, i){ return tickLabels[i]; }));
    g.attr("font-family", null).attr("font-size", null);
    g.select(".domain").remove();
    g.selectAll("text").attr("y", null).attr("dy", null)
     .attr("font-size", 18).attr("fill", "#111")
     .attr("transform", "translate(0,23)");
  }

  function colourBar(id, x, y0, h){
    var x1 = x(barDay[0]), x2 = x(barDay[barDay.length - 1]);
    var grad = defs.append("linearGradient").attr("id", id)
                   .attr("gradientUnits", "userSpaceOnUse")
                   .attr("x1", x1).attr("x2", x2).attr("y1", 0).attr("y2", 0);
    barDay.forEach(function(d, i){
      grad.append("stop").attr("offset", (x(d) - x1) / (x2 - x1)).attr("stop-color", barColor[i]);
    });
    svg.append("rect").attr("x", x1).attr("y", y0)
       .attr("width", x2 - x1).attr("height", h)
       .attr("fill", "url(#" + id + ")");
  }

  function arrow(x, yTop){
    var cx = x(arrowDay);
    var p = d3.path();
    p.moveTo(cx - 3.6, yTop);
    p.lineTo(cx + 3.6, yTop);
    p.lineTo(cx + 3.6, yTop + 19);
    p.lineTo(cx + 7.2, yTop + 19);
    p.lineTo(cx, yTop + 27);
    p.lineTo(cx - 7.2, yTop + 19);
    p.lineTo(cx - 3.6, yTop + 19);
    p.closePath();
    svg.append("path").attr("d", p.toString()).attr("fill", "url(#arrowGrad)");
  }

</script>
</body>
</html>
